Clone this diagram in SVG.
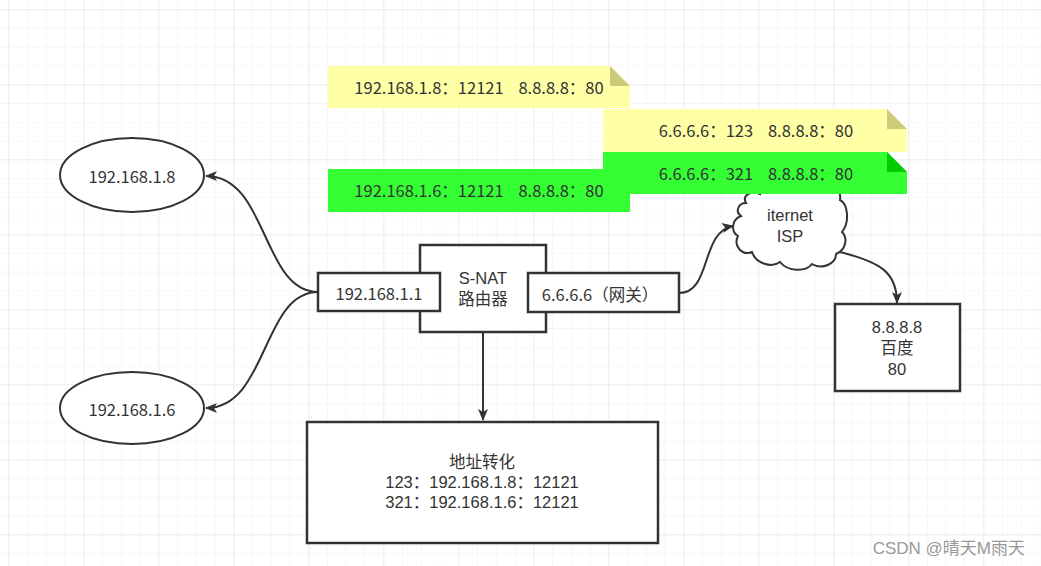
<svg xmlns="http://www.w3.org/2000/svg" width="1041" height="566" viewBox="0 0 1041 566">
<style>
.t{font-family:"Noto Sans CJK SC","Liberation Sans",sans-serif;font-size:16.5px;fill:#333;text-anchor:middle;dominant-baseline:central;white-space:pre}
.m{font-family:"Liberation Sans","Noto Sans CJK SC",sans-serif;font-size:16.5px;fill:#333;text-anchor:middle;dominant-baseline:central}
.box{fill:#fff;stroke:#333;stroke-width:2.5}
.ln{fill:none;stroke:#333;stroke-width:2}
</style>
<defs>
<pattern id="gMinor" patternUnits="userSpaceOnUse" x="8.3" y="9.3" width="18.75" height="18.75">
<path d="M0,0 H18.75 M0,0 V18.75" fill="none" stroke="#efefef" stroke-width="1"/>
</pattern>
<pattern id="gMajor" patternUnits="userSpaceOnUse" x="8.3" y="9.3" width="75" height="75">
<path d="M0,0 H75 M0,0 V75" fill="none" stroke="#e2e2e2" stroke-width="1"/>
</pattern>
<marker id="arr" viewBox="0 0 12 10" refX="11" refY="5" markerWidth="12" markerHeight="10" markerUnits="userSpaceOnUse" orient="auto">
<path d="M0,0 L12,5 L0,10 L3,5 Z" fill="#333"/>
</marker>
</defs>
<rect width="1041" height="566" fill="#fff"/>
<rect width="1041" height="566" fill="url(#gMinor)"/>
<rect width="1041" height="566" fill="url(#gMajor)"/>

<g id="connectors">
<path class="ln" d="M318,292 C262,292 268,176 206,176" marker-end="url(#arr)"/>
<path class="ln" d="M318,292 C262,292 268,408 206,408" marker-end="url(#arr)"/>
<path class="ln" d="M679,293 C712,293 700,232 733,226" marker-end="url(#arr)"/>
<path class="ln" d="M840,252 C880,262 897,272 897,303" marker-end="url(#arr)"/>
<path class="ln" d="M483,332 V420" marker-end="url(#arr)"/>
</g>

<g id="cloud">
<path d="M746,203 C738,203 735,212 741,216 C731,220 731,232 738,236 C733,246 742,256 752,252 C756,264 772,268 780,262 C788,272 806,272 812,264 C822,270 836,264 836,254 C846,250 848,238 842,232 C850,222 848,204 840,200 C842,188 828,182 820,190 C812,182 796,182 790,190 C780,182 760,184 760,194 C750,190 742,196 746,203 Z" fill="#fff" stroke="#333" stroke-width="2"/>
<text class="m"><tspan x="790" y="215">iternet</tspan><tspan x="790" y="236">ISP</tspan></text>
</g>

<g id="note1">
<path d="M328,66 H610 L630,86 V108 H328 Z" fill="#ffffa6"/>
<path d="M610,66 L630,86 H610 Z" fill="#cdcb77"/>
<text class="t" x="479" y="87" xml:space="preserve">192.168.1.8：12121    8.8.8.8：80</text>
</g>
<g id="note2">
<path d="M603,109 H887 L907,129 V152 H603 Z" fill="#ffffa6"/>
<path d="M887,109 L907,129 H887 Z" fill="#cdcb77"/>
<text class="t" x="756" y="130" xml:space="preserve">6.6.6.6：123    8.8.8.8：80</text>
</g>
<g id="note3">
<path d="M603,152 H887 L907,172 V194 H603 Z" fill="#33ff33"/>
<path d="M887,152 L907,172 H887 Z" fill="#00cc00"/>
<text class="t" x="756" y="173" xml:space="preserve">6.6.6.6：321    8.8.8.8：80</text>
</g>
<g id="note4">
<rect x="328" y="169" width="302" height="43" fill="#33ff33"/>
<text class="t" x="479" y="190" xml:space="preserve">192.168.1.6：12121    8.8.8.8：80</text>
</g>

<g id="ip18">
<ellipse cx="132" cy="175" rx="72" ry="37" fill="#fff" stroke="#333" stroke-width="2"/>
<text class="t" x="132" y="176">192.168.1.8</text>
</g>
<g id="ip16">
<ellipse cx="132" cy="408" rx="72" ry="36" fill="#fff" stroke="#333" stroke-width="2"/>
<text class="t" x="132" y="409">192.168.1.6</text>
</g>
<g id="snat">
<rect class="box" x="420" y="245" width="126" height="87"/>
<text class="m"><tspan x="483" y="278">S-NAT</tspan><tspan x="483" y="299">路由器</tspan></text>
</g>
<g id="lan">
<rect class="box" x="318" y="273" width="122" height="38"/>
<text class="t" x="379" y="293">192.168.1.1</text>
</g>
<g id="wan">
<rect class="box" x="528" y="273" width="151" height="39"/>
<text class="t" x="600" y="294">6.6.6.6（网关）</text>
</g>
<g id="baidu">
<rect class="box" x="835" y="304" width="125" height="87"/>
<text class="m"><tspan x="897" y="327">8.8.8.8</tspan><tspan x="897" y="348">百度</tspan><tspan x="897" y="369">80</tspan></text>
</g>
<g id="nat">
<rect class="box" x="307" y="422" width="351" height="121"/>
<text class="m"><tspan x="482" y="462">地址转化</tspan><tspan x="482" y="482">123：192.168.1.8：12121</tspan><tspan x="482" y="502">321：192.168.1.6：12121</tspan></text>
</g>
<text x="1025" y="548" font-family="'Liberation Sans','Noto Sans CJK SC',sans-serif" font-size="17" fill="#999" text-anchor="end" dominant-baseline="central">CSDN @晴天M雨天</text>
</svg>
